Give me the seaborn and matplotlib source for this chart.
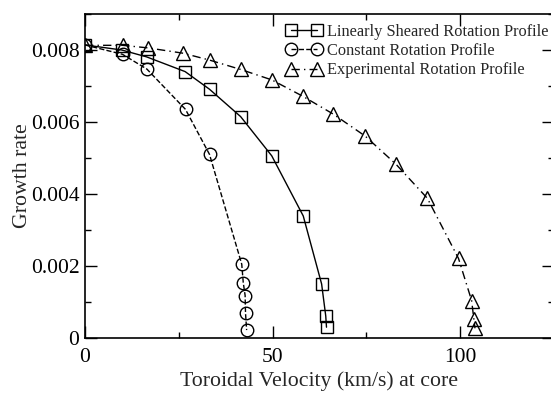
import numpy as np
import pandas as pd
import seaborn as sns
import matplotlib
matplotlib.use("Agg")
import matplotlib.pyplot as plt
from matplotlib.ticker import MultipleLocator, FuncFormatter

# Data
lin_x = [0, 9.8, 16.4, 26.7, 33.2, 41.5, 49.8, 58.2, 63.1, 64.2, 64.4]
lin_y = [0.00814, 0.00800, 0.00781, 0.00740, 0.00691, 0.00615, 0.00506, 0.00339, 0.00150, 0.00061, 0.00030]

const_x = [0, 10.0, 16.5, 26.8, 33.2, 41.8, 42.2, 42.7, 42.8, 43.1]
const_y = [0.00814, 0.00788, 0.00747, 0.00635, 0.00510, 0.00205, 0.00154, 0.00118, 0.00070, 0.00022]

exp_x = [0, 10.0, 16.7, 26.2, 33.2, 41.5, 49.8, 58.0, 66.2, 74.7, 82.9, 91.3, 99.6, 103.1, 103.7, 104.0]
exp_y = [0.00813, 0.00813, 0.00806, 0.00791, 0.00772, 0.00746, 0.00717, 0.00672, 0.00622, 0.00561,
         0.00483, 0.00388, 0.00221, 0.00104, 0.00052, 0.00027]

labels = ["Linearly Sheared Rotation Profile", "Constant Rotation Profile", "Experimental Rotation Profile"]
x_label = "Toroidal Velocity (km/s) at core"
y_label = "Growth rate"

sns.set_theme(style="white")
plt.rcParams['font.family'] = ['Liberation Serif', 'DejaVu Serif']
plt.rcParams['mathtext.fontset'] = 'stix'

fig = plt.figure(figsize=(5.51, 3.97), dpi=100)
ax = fig.add_axes([85/551, 1-338/397, 468.75/551, (338-14)/397])

series = [
    (lin_x, lin_y, labels[0], 's', '-', 8.5),
    (const_x, const_y, labels[1], 'o', '--', 9),
    (exp_x, exp_y, labels[2], '^', (0, (6, 3, 1, 3)), 9.5),
]
for xs, ys, lab, mk, ls, ms in series:
    df = pd.DataFrame({"x": xs, "y": ys})
    sns.lineplot(data=df, x="x", y="y", ax=ax, color="black", linewidth=1.0,
                 linestyle=ls, marker=mk, markersize=ms, markerfacecolor="none",
                 markeredgecolor="black", markeredgewidth=1.0, estimator=None,
                 label=lab)

ax.set_xlim(0, 125)
ax.set_ylim(0, 0.009)
ax.xaxis.set_major_locator(MultipleLocator(50))
ax.xaxis.set_minor_locator(MultipleLocator(25))
ax.yaxis.set_major_locator(MultipleLocator(0.002))
ax.yaxis.set_minor_locator(MultipleLocator(0.001))
ax.yaxis.set_major_formatter(FuncFormatter(lambda v, p: "0" if abs(v) < 1e-12 else f"{v:.3f}"))
ax.xaxis.set_major_formatter(FuncFormatter(lambda v, p: f"{v:.0f}"))

ax.tick_params(which="both", direction="in", top=True, right=True, bottom=True, left=True,
               width=1.0, colors="black", labelsize=15.5)
ax.tick_params(axis="y", pad=4)
ax.tick_params(axis="x", pad=7)
ax.tick_params(which="major", length=8.5)
ax.tick_params(which="minor", length=4.5)
for s in ax.spines.values():
    s.set_linewidth(1.2)
    s.set_color("black")

ax.set_xlabel(x_label, fontsize=15.7, labelpad=3)
ax.set_ylabel(y_label, fontsize=15.7, labelpad=-1)

leg = ax.legend(loc="upper right", frameon=False, fontsize=11.8, numpoints=2,
                handlelength=2.2, handletextpad=0.3, labelspacing=0.2,
                borderaxespad=0.2, bbox_to_anchor=((551 - 85 + 7) / 468.75, 1.0))

fig.savefig("out.png", dpi=100)
